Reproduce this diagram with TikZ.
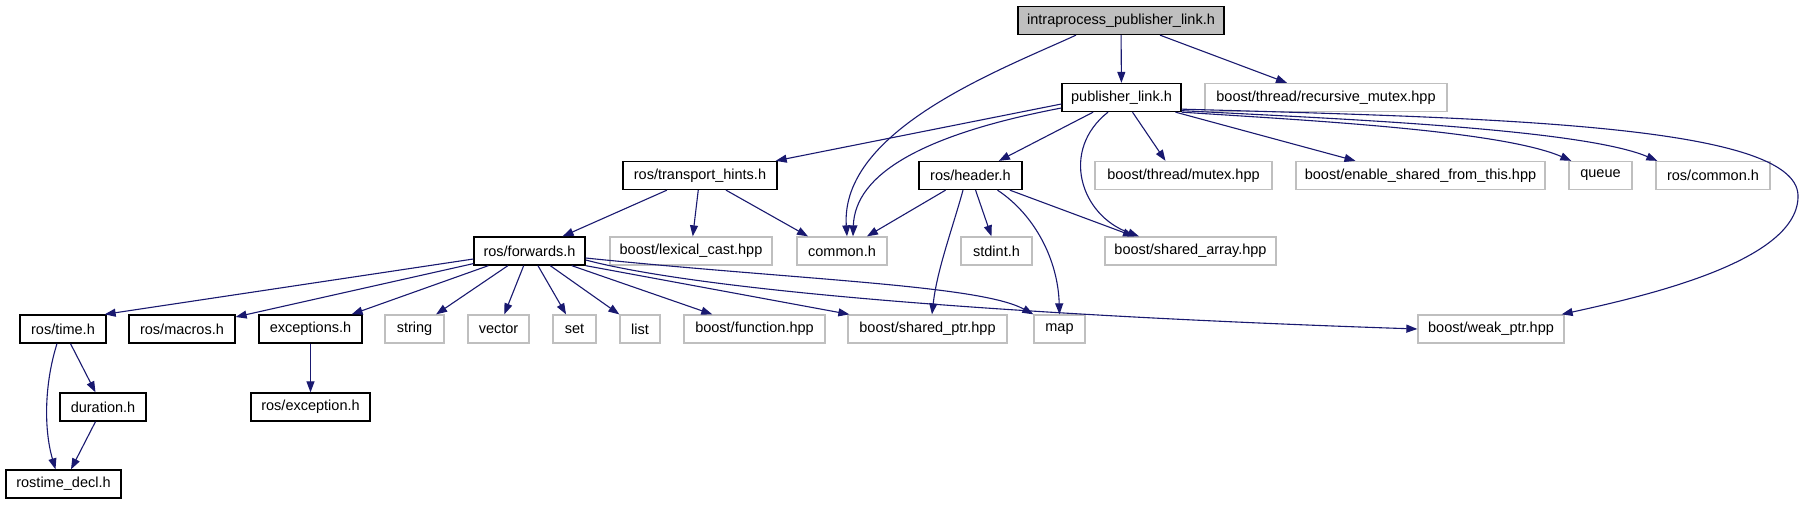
\documentclass[tikz,border=0pt]{standalone}
\usepackage{fontspec}
\setmainfont{Liberation Sans}
\usetikzlibrary{arrows.meta}

\definecolor{edgeblue}{RGB}{25,25,112}
\definecolor{extgray}{RGB}{191,191,191}

\tikzset{
    incnode/.style={draw=black, line width=1.3pt, minimum height=28pt, inner xsep=2pt,
        font=\fontsize{14.5}{17}\selectfont},
    extnode/.style={incnode, draw=extgray},
    topnode/.style={incnode, fill=extgray},
    dep/.style={draw=edgeblue, line width=1.1pt, -{Triangle[length=11pt,width=8pt]}},
}

\begin{document}
\begin{tikzpicture}[x=1pt, y=-1pt]
    % Define row heights (pixel grid, y grows downwards)
    \def\rowA{20.5}
    \def\rowB{97.5}
    \def\rowC{175.5}
    \def\rowD{251}
    \def\rowE{329}
    \def\rowF{407}
    \def\rowG{484}

    \fill[white] (0,0) rectangle (1805,504);
    \useasboundingbox (0,0) rectangle (1805,504);

    % Files
    \node[topnode, minimum width=206pt] (intra) at (1121,\rowA) {intraprocess\_publisher\_link.h};

    \node[incnode, minimum width=119pt] (pub) at (1121.5,\rowB) {publisher\_link.h};
    \node[extnode, minimum width=242pt] (recmutex) at (1326,\rowB) {boost/thread/recursive\_mutex.hpp};

    \node[incnode, minimum width=154pt] (trans) at (700,\rowC) {ros/transport\_hints.h};
    \node[incnode, minimum width=103pt] (header) at (970.5,\rowC) {ros/header.h};
    \node[extnode, minimum width=177pt] (tmutex) at (1183.5,\rowC) {boost/thread/mutex.hpp};
    \node[extnode, minimum width=249pt] (enable) at (1420.5,\rowC) {boost/enable\_shared\_from\_this.hpp};
    \node[extnode, minimum width=63pt] (queue) at (1600.5,\rowC) {queue};
    \node[extnode, minimum width=114pt] (roscommon) at (1713,\rowC) {ros/common.h};

    \node[incnode, minimum width=111pt] (fwd) at (529.5,\rowD) {ros/forwards.h};
    \node[extnode, minimum width=162pt] (lexical) at (691,\rowD) {boost/lexical\_cast.hpp};
    \node[extnode, minimum width=90pt] (common) at (842,\rowD) {common.h};
    \node[extnode, minimum width=71pt] (stdint) at (996.5,\rowD) {stdint.h};
    \node[extnode, minimum width=171pt] (sharedarray) at (1190.5,\rowD) {boost/shared\_array.hpp};

    \node[incnode, minimum width=86pt] (timeh) at (63,\rowE) {ros/time.h};
    \node[incnode, minimum width=106pt] (macros) at (182,\rowE) {ros/macros.h};
    \node[incnode, minimum width=103pt] (exceptions) at (310.5,\rowE) {exceptions.h};
    \node[extnode, minimum width=59pt] (string) at (414.5,\rowE) {string};
    \node[extnode, minimum width=61pt] (vector) at (498.5,\rowE) {vector};
    \node[extnode, minimum width=43pt] (set) at (574.5,\rowE) {set};
    \node[extnode, minimum width=40pt] (list) at (640,\rowE) {list};
    \node[extnode, minimum width=141pt] (function) at (754.5,\rowE) {boost/function.hpp};
    \node[extnode, minimum width=159pt] (sharedptr) at (927.5,\rowE) {boost/shared\_ptr.hpp};
    \node[extnode, minimum width=51pt] (map) at (1059.5,\rowE) {map};
    \node[extnode, minimum width=146pt] (weakptr) at (1491,\rowE) {boost/weak\_ptr.hpp};

    \node[incnode, minimum width=86pt] (duration) at (103,\rowF) {duration.h};
    \node[incnode, minimum width=119pt] (rosexc) at (310.5,\rowF) {ros/exception.h};

    \node[incnode, minimum width=115pt] (rostime) at (63.5,\rowG) {rostime\_decl.h};

    % intraprocess_publisher_link.h
    \draw[dep] (intra) -- (pub);
    \draw[dep] (intra) -- (recmutex);
    \draw[dep] ([xshift=-45pt]intra.south) .. controls (1000,70) and (840,130) .. ([xshift=5pt]common.north);

    % publisher_link.h
    \draw[dep] ([yshift=-6.5pt]pub.west) -- ([xshift=-2pt]trans.north east);
    \draw[dep] ([yshift=-10.5pt]pub.west) .. controls (920,135) and (855,175) .. ([xshift=11pt]common.north);
    \draw[dep] (pub) -- (header);
    \draw[dep] ([xshift=-13.5pt]pub.south) .. controls (1060,150) and (1080,215) .. ([xshift=-51.5pt]sharedarray.north);
    \draw[dep] ([xshift=11pt]pub.south) -- ([xshift=-18pt]tmutex.north);
    \draw[dep] ([xshift=54pt]pub.south) -- ([xshift=-65pt]enable.north);
    \draw[dep] (pub.south east) .. controls (1300,120) and (1500,130) .. ([xshift=3pt]queue.north west);
    \draw[dep] ([yshift=1.5pt]pub.south east) .. controls (1320,118) and (1580,128) .. ([xshift=2pt]roscommon.north west);
    \draw[dep] ([yshift=3pt]pub.south east) .. controls (1500,118) and (1795,125) .. (1798,195)
        .. controls (1800,260) and (1650,295) .. ([xshift=-3pt]weakptr.north east);

    % ros/transport_hints.h
    \draw[dep] (trans) -- (fwd);
    \draw[dep] (trans) -- (lexical);
    \draw[dep] (trans) -- ([xshift=-34pt]common.north);

    % ros/header.h
    \draw[dep] (header) -- (common);
    \draw[dep] (header) -- (stdint);
    \draw[dep] (header) -- ([xshift=-56.5pt]sharedarray.north);
    \draw[dep] ([xshift=-7.5pt]header.south) .. controls (952,230) and (937,270) .. ([xshift=4.5pt]sharedptr.north);
    \draw[dep] ([xshift=27pt]header.south) .. controls (1035,215) and (1058,260) .. (map.north);

    % ros/forwards.h
    \draw[dep] ([yshift=-8pt]fwd.west) -- ([xshift=-2pt]timeh.north east);
    \foreach \t in {macros,exceptions,string,vector,set,list,function} {
        \draw[dep] (fwd) -- (\t);
    }
    \draw[dep] (fwd.south east) -- ([xshift=2pt]sharedptr.north west);
    \draw[dep] ([yshift=-7pt]fwd.east) .. controls (800,280) and (980,285) .. (map.north west);
    \draw[dep] ([yshift=-9pt]fwd.east) .. controls (700,290) and (1000,315) .. (weakptr.west);

    % ros/time.h and exceptions.h
    \draw[dep] (timeh) -- (duration);
    \draw[dep] ([xshift=-6pt]timeh.south) .. controls (44,385) and (44,430) .. ([xshift=-8pt]rostime.north);
    \draw[dep] (duration) -- (rostime);
    \draw[dep] (exceptions) -- (rosexc);
\end{tikzpicture}
\end{document}
